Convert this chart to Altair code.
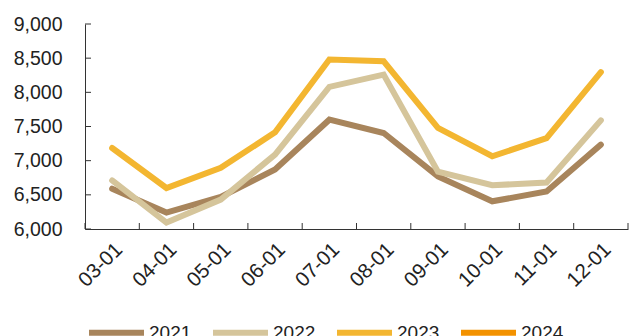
import altair as alt
import pandas as pd

months = ["03-01", "04-01", "05-01", "06-01", "07-01", "08-01", "09-01", "10-01", "11-01", "12-01"]
years = ["2021", "2022", "2023", "2024"]
v2021 = [6590, 6240, 6470, 6870, 7600, 7405, 6770, 6405, 6550, 7235]
v2022 = [6710, 6095, 6430, 7090, 8080, 8260, 6840, 6640, 6680, 7590]
v2023 = [7185, 6600, 6895, 7415, 8480, 8455, 7480, 7065, 7330, 8295]
y_ticks = [6000, 6500, 7000, 7500, 8000, 8500, 9000]
colors = ["#A8855C", "#D5C59B", "#F3B631", "#F39200"]

rows = []
for y, vals in zip(years[:3], [v2021, v2022, v2023]):
    for m, v in zip(months, vals):
        rows.append({"month": m, "year": y, "value": v})
df = pd.DataFrame(rows)

font = "Arial"
W, H = 543, 205
xscale = alt.Scale(type="band", paddingInner=0, paddingOuter=0)
yscale = alt.Scale(domain=[6000, 9000], nice=False, zero=False)
xaxis = alt.Axis(title=None, labelAngle=-45, labelFont=font, ticks=False,
                 labelFontSize=20.5, labelColor="#222", domainColor="#333",
                 labelPadding=10, labelOverlap=False, grid=False)
yaxis = alt.Axis(title=None, values=y_ticks, labelOverlap=False, tickCount=7,
                 format=",.0f", ticks=False, labelPadding=23, labelFont=font,
                 labelFontSize=19.5, labelColor="#222", domainColor="#333", grid=False)

lines = alt.Chart(df).mark_line(strokeWidth=6, strokeCap="round").encode(
    x=alt.X("month:N", sort=months, bandPosition=0.5, scale=xscale, axis=xaxis),
    y=alt.Y("value:Q", scale=yscale, axis=yaxis),
    color=alt.Color("year:N", scale=alt.Scale(domain=years, range=colors),
                    legend=alt.Legend(title=None, orient="none", legendX=1, legendY=278,
                                      direction="horizontal", columns=4, symbolType="stroke",
                                      symbolSize=3025, symbolStrokeWidth=6, labelFont=font,
                                      labelFontSize=19, labelColor="#222", labelOffset=2,
                                      columnPadding=9)),
)

yt = alt.Chart(pd.DataFrame({"value": y_ticks})).mark_rule(color="#333", strokeWidth=1).encode(
    y=alt.Y("value:Q", scale=yscale, axis=yaxis), x=alt.value(0), x2=alt.value(6))
xt = alt.Chart(pd.DataFrame({"month": months})).mark_rule(color="#333", strokeWidth=1).encode(
    x=alt.X("month:N", sort=months, bandPosition=0, scale=xscale, axis=xaxis),
    y=alt.value(H - 6), y2=alt.value(H))
xend = alt.Chart(pd.DataFrame({"month": [months[-1]]})).mark_rule(color="#333", strokeWidth=1).encode(
    x=alt.X("month:N", sort=months, bandPosition=1, scale=xscale, axis=xaxis),
    y=alt.value(H - 6), y2=alt.value(H))

chart = alt.layer(lines, yt, xt, xend).properties(
    width=W, height=H, padding={"left": 85, "top": 24, "right": 1, "bottom": 107},
    autosize=alt.AutoSizeParams(type="none")).configure_view(stroke=None)

chart.save("out.html", embed_options={"renderer": "svg", "actions": False})
